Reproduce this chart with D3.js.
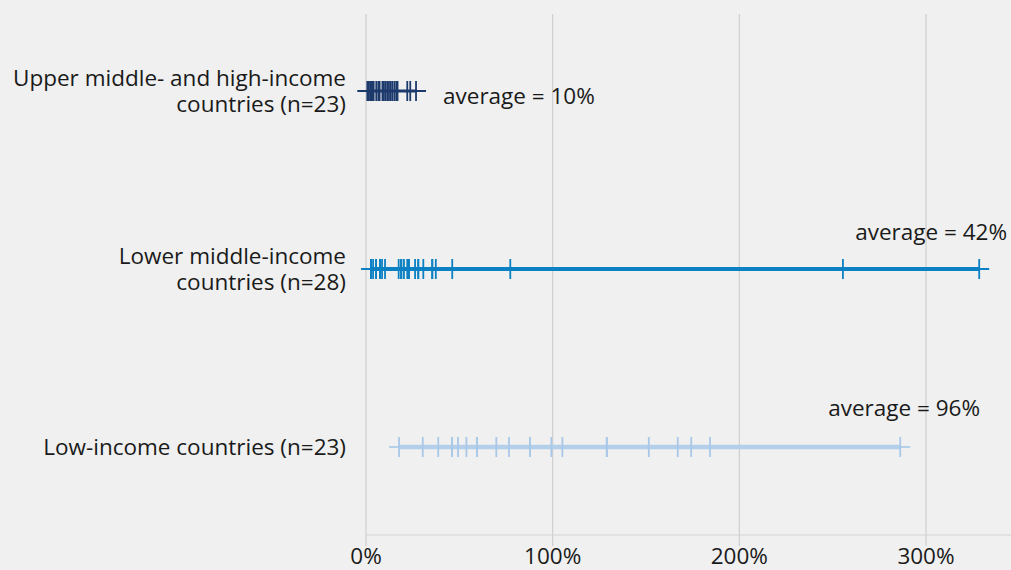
<!DOCTYPE html>
<html>
<head>
<meta charset="utf-8">
<script src="https://cdn.jsdelivr.net/npm/d3@7"></script>
<style>
  body { margin: 0; background: #eff0ef; }
  svg { display: block; font-family: "Open Sans", "Noto Sans", sans-serif; }
</style>
</head>
<body>
<script>
var width = 1011,
    height = 570,
    fontSize = 22.5

var groupLabels = [
  ["Upper middle- and high-income", "countries (n=23)"],
  ["Lower middle-income", "countries (n=28)"],
  ["Low-income countries (n=23)"]
]
var upperValues = [0.7, 1.2, 1.6, 2.5, 3.0, 3.4, 4.1, 5.5, 6.6, 7.3, 8.8, 9.6, 10.5, 11.4,
  12.3, 13.2, 14.1, 15.2, 16.2, 16.9, 22.1, 23.7, 26.8]
var lowerMiddleValues = [2.7, 2.7, 3.8, 5.4, 5.4, 7.5, 7.5, 8.6, 10.2, 17.5, 18.8, 18.8, 20.2, 20.2,
  22.1, 23.0, 23.0, 26.3, 28.0, 28.0, 30.7, 35.5, 35.5, 37.4, 46.2, 77.3, 255.5, 328.5]
var lowValues = [17.7, 30.4, 38.7, 46.1, 46.1, 49.3, 53.8, 59.5, 59.5, 59.5, 69.8, 76.6, 87.9, 87.9,
  99.3, 105.2, 129, 129, 151.5, 167, 174.2, 184.3, 286.2]
var averages = [10, 42, 96]
var xTicks = [0, 100, 200, 300]

var colors = ["#1d3a6d", "#0b80c3", "#b4cfea"],
    tickColors = ["#1d3a6d", "#0b80c3", "#a9c8e8"],
    lineWidths = [3, 4, 4.5]

var series = [upperValues, lowerMiddleValues, lowValues]

var svg = d3.select("body").append("svg")
    .attr("width", width)
    .attr("height", height)

var x = d3.scaleLinear()
    .domain([0, 300])
    .range([366, 926])

var y = d3.scalePoint()
    .domain([0, 1, 2])
    .range([91, 447])

// gridlines
svg.append("g")
  .selectAll("line")
  .data(xTicks)
  .enter().append("line")
    .attr("x1", x).attr("x2", x)
    .attr("y1", 14).attr("y2", 546)
    .attr("stroke", "#cfcfcf")
    .attr("stroke-width", 1.2)

svg.append("line")
    .attr("x1", x(0)).attr("x2", width)
    .attr("y1", 535).attr("y2", 535)
    .attr("stroke", "#d4d4d4")

svg.append("g")
  .selectAll("text")
  .data(xTicks)
  .enter().append("text")
    .attr("x", x)
    .attr("y", 564)
    .attr("text-anchor", "middle")
    .attr("font-size", fontSize)
    .attr("fill", "#1a1a1a")
    .text(function(d) { return d + "%" })

var rows = svg.selectAll(".row")
  .data(series)
  .enter().append("g")
    .attr("class", "row")
    .attr("transform", function(d, i) { return "translate(0," + y(i) + ")" })

rows.append("line")
    .attr("x1", function(d) { return x(d3.min(d)) - 10 })
    .attr("x2", function(d) { return x(d3.max(d)) + 10 })
    .attr("stroke", function(d, i) { return colors[i] })
    .attr("stroke-width", 2)

rows.append("line")
    .attr("x1", function(d) { return x(d3.min(d)) })
    .attr("x2", function(d) { return x(d3.max(d)) })
    .attr("stroke", function(d, i) { return colors[i] })
    .attr("stroke-width", function(d, i) { return lineWidths[i] })

rows.each(function(d, i) {
  d3.select(this).selectAll(".tick")
    .data(d)
    .enter().append("line")
      .attr("class", "tick")
      .attr("x1", x).attr("x2", x)
      .attr("y1", -10).attr("y2", 10)
      .attr("stroke", tickColors[i])
      .attr("stroke-width", 1.8)
})

rows.append("text")
    .attr("text-anchor", "end")
    .attr("font-size", fontSize)
    .attr("fill", "#1a1a1a")
  .selectAll("tspan")
  .data(function(d, i) { return groupLabels[i] })
  .enter().append("tspan")
    .attr("x", 346)
    .attr("y", function(d, j, nodes) { return 8 + (j - (nodes.length - 1) / 2) * 26 })
    .text(function(d) { return d })

var avgPos = [
  {x: 443, y: 13, anchor: "start"},
  {x: 1007, y: -29, anchor: "end"},
  {x: 980, y: -31, anchor: "end"}
]

rows.append("text")
    .attr("x", function(d, i) { return avgPos[i].x })
    .attr("y", function(d, i) { return avgPos[i].y })
    .attr("text-anchor", function(d, i) { return avgPos[i].anchor })
    .attr("font-size", fontSize)
    .attr("fill", "#1a1a1a")
    .text(function(d, i) { return "average = " + averages[i] + "%" })
</script>
</body>
</html>
